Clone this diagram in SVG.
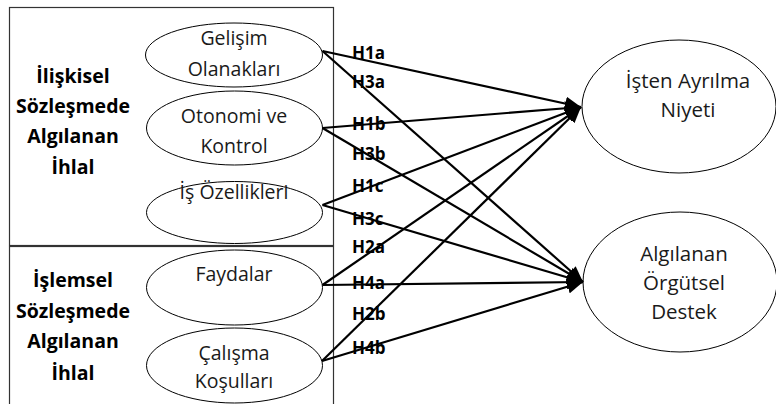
<svg xmlns="http://www.w3.org/2000/svg" width="776" height="404" viewBox="0 0 776 404">
  <style>
    .frame { fill: none; stroke: #333; stroke-width: 1.2; }
    .node { fill: #fff; stroke: #000; stroke-width: 1; }
    .txt { font-family: "Open Sans", "Noto Sans", "DejaVu Sans", sans-serif; font-size: 19.5px; fill: #1a1a1a; text-anchor: middle; }
    .txt-lg { font-size: 20.5px; }
    .group-title { font-family: "Open Sans", "Noto Sans", "DejaVu Sans", sans-serif; font-size: 19.5px; font-weight: bold; fill: #000; text-anchor: middle; }
    .hyp { font-family: "Open Sans", "Noto Sans", "DejaVu Sans", sans-serif; font-size: 17px; font-weight: bold; fill: #000; }
    .link { stroke: #000; stroke-width: 2.2; fill: none; marker-end: url(#head); }
  </style>
  <defs>
    <marker id="head" viewBox="0 0 16 14" refX="16" refY="7" markerWidth="16" markerHeight="14" markerUnits="userSpaceOnUse" orient="auto">
      <path d="M0,0 L16,7 L0,14 Z" fill="#000"/>
    </marker>
  </defs>

  <rect width="776" height="404" fill="#fff"/>

  <!-- construct frames -->
  <g id="relational-frame">
    <rect class="frame" x="9.5" y="7.5" width="324" height="238"/>
    <text class="group-title" x="73" y="83">İlişkisel</text>
    <text class="group-title" x="73" y="113">Sözleşmede</text>
    <text class="group-title" x="73" y="143">Algılanan</text>
    <text class="group-title" x="73" y="174">İhlal</text>
  </g>
  <g id="transactional-frame">
    <rect class="frame" x="9.5" y="246.5" width="324" height="170"/>
    <text class="group-title" x="73" y="287">İşlemsel</text>
    <text class="group-title" x="73" y="318">Sözleşmede</text>
    <text class="group-title" x="73" y="348">Algılanan</text>
    <text class="group-title" x="73" y="380">İhlal</text>
  </g>

  <!-- dimension nodes -->
  <g id="gelisim">
    <ellipse class="node" cx="234" cy="55" rx="88.5" ry="32"/>
    <text class="txt" x="234" y="45">Gelişim</text>
    <text class="txt" x="234" y="76">Olanakları</text>
  </g>
  <g id="otonomi">
    <ellipse class="node" cx="234.5" cy="128" rx="88" ry="37"/>
    <text class="txt" x="234" y="123">Otonomi ve</text>
    <text class="txt" x="234" y="153">Kontrol</text>
  </g>
  <g id="is-ozellikleri">
    <ellipse class="node" cx="234.5" cy="212.5" rx="88" ry="31"/>
    <text class="txt" x="234" y="199">İş Özellikleri</text>
  </g>
  <g id="faydalar">
    <ellipse class="node" cx="234.5" cy="287.5" rx="88" ry="37.5"/>
    <text class="txt" x="234" y="281">Faydalar</text>
  </g>
  <g id="calisma">
    <ellipse class="node" cx="234.5" cy="365.5" rx="88" ry="37.5"/>
    <text class="txt" x="234" y="360">Çalışma</text>
    <text class="txt" x="234" y="388">Koşulları</text>
  </g>

  <!-- outcome nodes -->
  <g id="isten-ayrilma">
    <ellipse class="node" cx="679" cy="106.5" rx="97" ry="66.5"/>
    <text class="txt txt-lg" x="688" y="88">İşten Ayrılma</text>
    <text class="txt txt-lg" x="688" y="117">Niyeti</text>
  </g>
  <g id="orgutsel-destek">
    <ellipse class="node" cx="680" cy="282" rx="97" ry="70"/>
    <text class="txt txt-lg" x="684" y="261">Algılanan</text>
    <text class="txt txt-lg" x="684" y="290">Örgütsel</text>
    <text class="txt txt-lg" x="684" y="319">Destek</text>
  </g>

  <!-- hypothesis paths -->
  <g id="connectors">
    <text class="hyp" x="352" y="59">H1a</text>
    <text class="hyp" x="352" y="88">H3a</text>
    <text class="hyp" x="352" y="130">H1b</text>
    <text class="hyp" x="352" y="160">H3b</text>
    <text class="hyp" x="352" y="192">H1c</text>
    <text class="hyp" x="352" y="225">H3c</text>
    <text class="hyp" x="352" y="253">H2a</text>
    <text class="hyp" x="352" y="289">H4a</text>
    <text class="hyp" x="352" y="320">H2b</text>
    <text class="hyp" x="352" y="354">H4b</text>

    <line class="link" x1="322.5" y1="51" x2="581" y2="107"/>
    <line class="link" x1="322.5" y1="51" x2="583" y2="282"/>
    <line class="link" x1="322.5" y1="128" x2="581" y2="107"/>
    <line class="link" x1="322.5" y1="128" x2="583" y2="282"/>
    <line class="link" x1="322.5" y1="205" x2="581" y2="107"/>
    <line class="link" x1="322.5" y1="205" x2="583" y2="282"/>
    <line class="link" x1="322.5" y1="285" x2="581" y2="107"/>
    <line class="link" x1="322.5" y1="285" x2="583" y2="282"/>
    <line class="link" x1="322" y1="361" x2="581" y2="107"/>
    <line class="link" x1="322" y1="361" x2="583" y2="282"/>
  </g>
</svg>
